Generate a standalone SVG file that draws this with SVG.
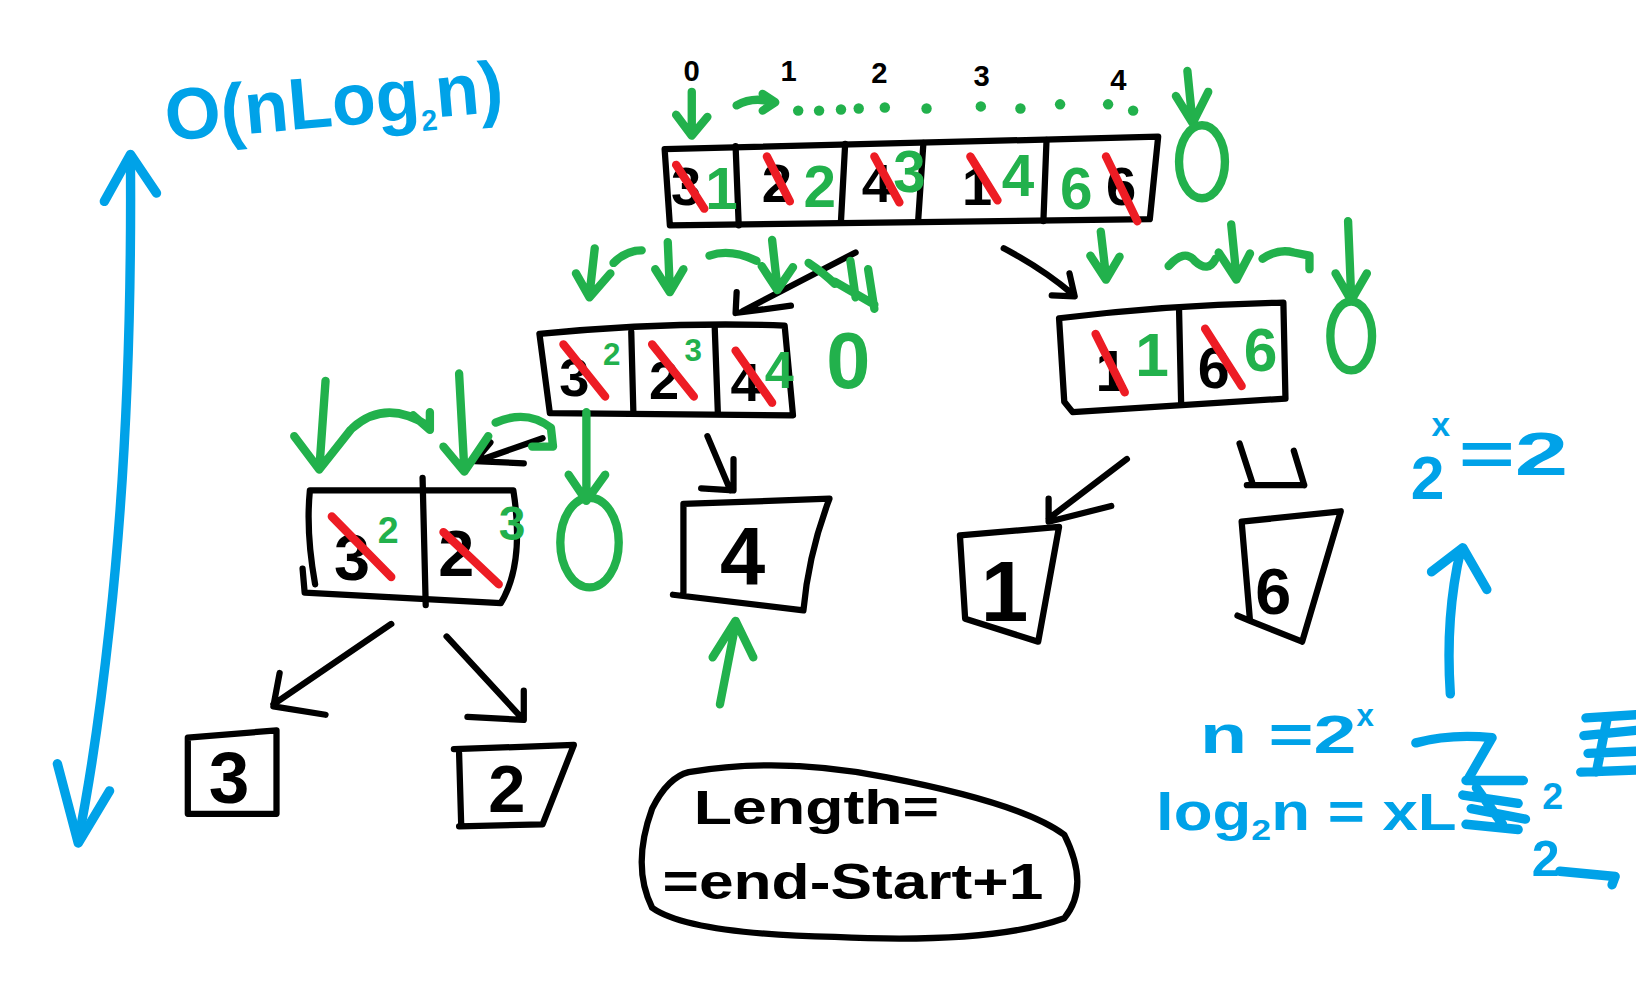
<svg xmlns="http://www.w3.org/2000/svg" width="1636" height="1000" viewBox="0 0 1636 1000">
<style>
.k{stroke:#000;stroke-width:6;fill:none;stroke-linecap:round;stroke-linejoin:round}
.g{stroke:#22b14c;stroke-width:8;fill:none;stroke-linecap:round;stroke-linejoin:round}
.r{stroke:#ed1c24;stroke-width:8;fill:none;stroke-linecap:round}
.b{stroke:#00a2e8;stroke-width:9;fill:none;stroke-linecap:round;stroke-linejoin:round}
.tk{fill:#000;font-family:"Liberation Sans",Arial,sans-serif;font-weight:bold}
.tg{fill:#22b14c;font-family:"Liberation Sans",Arial,sans-serif;font-weight:bold}
.tb{fill:#00a2e8;font-family:"Liberation Sans",Arial,sans-serif;font-weight:bold}
.dot{fill:#22b14c}
</style>
<rect width="1636" height="1000" fill="#fff"/>
<g transform="scale(1.0434)">

<g id="n-complexity">
<text class="tb" x="160" y="135" font-size="70" transform="rotate(-5 160 135)" textLength="325" lengthAdjust="spacingAndGlyphs">O(nLog<tspan font-size="28" dy="12">2</tspan><tspan dy="-12">n)</tspan></text>
</g>

<g id="n-axis">
<path class="b" d="M125,150 Q127,400 105,600 Q92,720 75,805"/>
<path class="b" d="M100,193 L125,148 L150,185"/>
<path class="b" d="M55,732 L75,808 L105,758"/>
</g>

<g id="n-top">
<path class="k" d="M637,143 L1110,131 L1102,210 L642,216 Z"/>
<path class="k" d="M705,140 L708,216 M810,138 L806,212 M885,137 L880,211 M1003,134 L1000,212"/>
<g class="tk" font-size="28">
<text x="655" y="78">0</text><text x="748" y="78">1</text><text x="835" y="80">2</text><text x="933" y="82">3</text><text x="1064" y="86">4</text>
</g>
<g class="tk" font-size="52">
<text x="643" y="196">3</text><text x="730" y="194">2</text><text x="826" y="194">4</text><text x="922" y="196">1</text><text x="1060" y="196">6</text>
</g>
<g class="tg" font-size="56">
<text x="676" y="200">1</text><text x="770" y="198">2</text><text x="856" y="184">3</text><text x="960" y="188">4</text><text x="1016" y="200">6</text>
</g>
<path class="r" d="M648,158 L675,200 M735,150 L757,193 M838,150 L862,194 M930,150 L956,192 M1060,150 L1090,212"/>
<path class="g" d="M663,88 L663,128 M648,110 L663,130 L678,112"/>
<path class="g" d="M706,101 Q722,92 741,98 M731,90 L743,98 L731,106"/>
<g class="dot">
<circle cx="765" cy="106" r="5"/><circle cx="785" cy="106" r="5"/><circle cx="806" cy="105" r="5"/><circle cx="823" cy="104" r="5"/><circle cx="848" cy="103" r="5"/><circle cx="888" cy="104" r="5"/><circle cx="940" cy="102" r="5"/><circle cx="978" cy="104" r="5"/><circle cx="1016" cy="100" r="5"/><circle cx="1062" cy="100" r="5"/><circle cx="1086" cy="106" r="5"/>
</g>
<path class="g" d="M1138,68 L1143,118 M1127,92 L1143,118 L1158,88"/>
<ellipse class="g" cx="1152" cy="155" rx="22" ry="35"/>
</g>

<g id="n-left">
<path class="k" d="M517,320 Q640,308 752,312 L760,398 L527,396 Z"/>
<path class="k" d="M605,318 L607,394 M685,314 L688,396"/>
<g class="tk" font-size="52">
<text x="536" y="380">3</text><text x="622" y="382">2</text><text x="700" y="384">4</text>
</g>
<g class="tg" font-size="30">
<text x="578" y="350">2</text><text x="656" y="346">3</text>
</g>
<text class="tg" x="733" y="372" font-size="50">4</text>
<text class="tg" x="792" y="372" font-size="76">0</text>
<path class="r" d="M540,330 L580,380 M625,330 L665,380 M705,336 L740,386"/>
</g>

<g id="n-right">
<path class="k" d="M1015,305 Q1120,292 1230,290 L1232,382 L1028,395 L1020,385 Z"/>
<path class="k" d="M1130,296 L1132,386"/>
<g class="tk" font-size="55">
<text x="1050" y="375">1</text><text x="1148" y="372">6</text>
</g>
<g class="tg" font-size="58">
<text x="1088" y="360">1</text><text x="1192" y="356">6</text>
</g>
<path class="r" d="M1050,320 L1078,376 M1155,315 L1190,370"/>
</g>

<g id="n-32">
<path class="k" d="M290,545 L292,568 L480,578 Q503,540 492,470 L297,470 Q293,510 302,560"/>
<path class="k" d="M405,458 L408,580"/>
<g class="tk" font-size="62">
<text x="320" y="556">3</text><text x="420" y="552">2</text>
</g>
<text class="tg" x="362" y="520" font-size="36">2</text>
<text class="tg" x="478" y="518" font-size="46">3</text>
<path class="r" d="M318,495 L375,553 M425,510 L478,560"/>
<ellipse class="g" cx="565" cy="520" rx="28" ry="43"/>
</g>

<g id="n-4">
<path class="k" d="M655,483 L795,478 Q775,530 770,585 L645,570 M655,483 L655,568"/>
<text class="tk" x="690" y="560" font-size="78">4</text>
</g>

<g id="n-1">
<path class="k" d="M920,513 L1015,505 L995,615 L925,593 Z"/>
<text class="tk" x="940" y="595" font-size="82">1</text>
</g>

<g id="n-6">
<path class="k" d="M1190,500 L1285,490 L1248,615 L1198,595 M1190,500 L1198,595 L1186,590"/>
<text class="tk" x="1203" y="588" font-size="62">6</text>
</g>

<g id="n-3">
<path class="k" d="M180,707 L265,700 L265,780 L180,780 Z"/>
<text class="tk" x="200" y="770" font-size="70">3</text>
</g>

<g id="n-2">
<path class="k" d="M435,718 L550,714 L520,790 L440,792 M440,722 L442,790"/>
<text class="tk" x="468" y="778" font-size="64">2</text>
</g>

<g id="n-length">
<path class="k" d="M660,740 Q750,725 850,745 Q980,770 1020,800 Q1045,850 1020,880 Q950,905 800,898 Q660,895 625,870 Q605,830 625,775 Q640,745 660,740 Z" stroke-width="7"/>
<text class="tk" x="665" y="790" font-size="46" textLength="235" lengthAdjust="spacingAndGlyphs">Length=</text>
<text class="tk" x="635" y="862" font-size="48" textLength="365" lengthAdjust="spacingAndGlyphs">=end-Start+1</text>
</g>

<g id="n-eq1">
<text class="tb" x="1352" y="478" font-size="58">2</text>
<text class="tb" x="1372" y="418" font-size="32">x</text>
<text class="tb" x="1398" y="455" font-size="58" textLength="105" lengthAdjust="spacingAndGlyphs">=2</text>
<path class="b" d="M1390,665 Q1385,590 1400,527 M1372,548 L1402,525 L1425,565"/>
</g>

<g id="n-eq2">
<text class="tb" x="1150" y="722" font-size="52" textLength="150" lengthAdjust="spacingAndGlyphs">n =2</text>
<text class="tb" x="1300" y="696" font-size="30">x</text>
</g>

<g id="n-eq3">
<text class="tb" x="1108" y="795" font-size="50" textLength="288" lengthAdjust="spacingAndGlyphs">log<tspan font-size="28" dy="10">2</tspan><tspan dy="-10">n = xL</tspan></text>
<path class="b" d="M1357,712 Q1390,703 1430,707 L1408,745"/>
<path class="b" d="M1405,748 L1460,748 M1402,762 L1455,770 M1410,775 L1462,785 M1405,790 L1455,795 M1415,755 L1440,790"/>
<text class="tb" x="1478" y="775" font-size="36">2</text>
<text class="tb" x="1468" y="840" font-size="48">2</text>
<path class="b" d="M1495,835 L1548,840 L1545,848"/>
<path class="b" d="M1520,688 L1568,685 M1518,705 L1568,700 M1522,722 L1568,720 M1515,740 L1568,738 M1540,690 L1530,740"/>
</g>

<g id="connectors">
<path class="k" d="M820,242 L712,298 M706,280 L705,300 L758,293"/>
<path class="k" d="M962,238 Q1000,258 1028,282 M1025,262 L1030,284 L1008,283"/>
<path class="k" d="M520,420 L457,442 M470,424 L455,442 L502,444"/>
<path class="k" d="M678,418 L700,470 M703,440 L703,470 L672,468"/>
<path class="k" d="M1080,440 L1005,497 M1005,478 L1005,500 L1065,485"/>
<path class="k" d="M1188,425 L1200,462 M1195,465 L1250,465 M1240,432 L1250,465"/>
<path class="k" d="M375,598 L262,675 M268,645 L262,677 L312,685"/>
<path class="k" d="M428,610 L500,688 M502,662 L502,690 L448,687"/>
<path class="g" d="M570,238 L565,282 M552,262 L565,285 L585,262 M588,252 Q600,240 615,240"/>
<path class="g" d="M640,232 L642,278 M628,258 L642,280 L655,258 M680,245 Q700,238 725,250"/>
<path class="g" d="M740,230 L745,275 M730,255 L745,278 L760,256 M775,252 Q790,262 800,272"/>
<path class="g" d="M815,250 L820,285 M800,270 L838,292 M832,258 L838,296"/>
<path class="g" d="M1055,222 L1060,265 M1045,245 L1060,268 L1073,246"/>
<path class="g" d="M1120,255 Q1135,238 1145,250 Q1158,262 1165,248"/>
<path class="g" d="M1180,215 L1185,265 M1168,242 L1185,268 L1198,243"/>
<path class="g" d="M1210,248 Q1225,238 1240,242 L1255,245 L1255,258"/>
<path class="g" d="M1292,212 L1295,285 M1280,262 L1295,288 L1310,262"/>
<ellipse class="g" cx="1295" cy="322" rx="20" ry="33"/>
<path class="g" d="M312,365 L306,450 M282,418 L306,450 L336,412"/>
<path class="g" d="M338,410 Q370,382 410,408 M396,398 L412,412 L412,395"/>
<path class="g" d="M440,358 L445,450 M425,428 L445,452 L468,418"/>
<path class="g" d="M475,405 Q505,392 528,410 L530,428 L510,428"/>
<path class="g" d="M562,395 L562,480 M545,455 L562,480 L580,455"/>
<path class="g" d="M690,675 L705,598 M683,630 L705,595 L722,630"/>
</g>

</g>
</svg>
